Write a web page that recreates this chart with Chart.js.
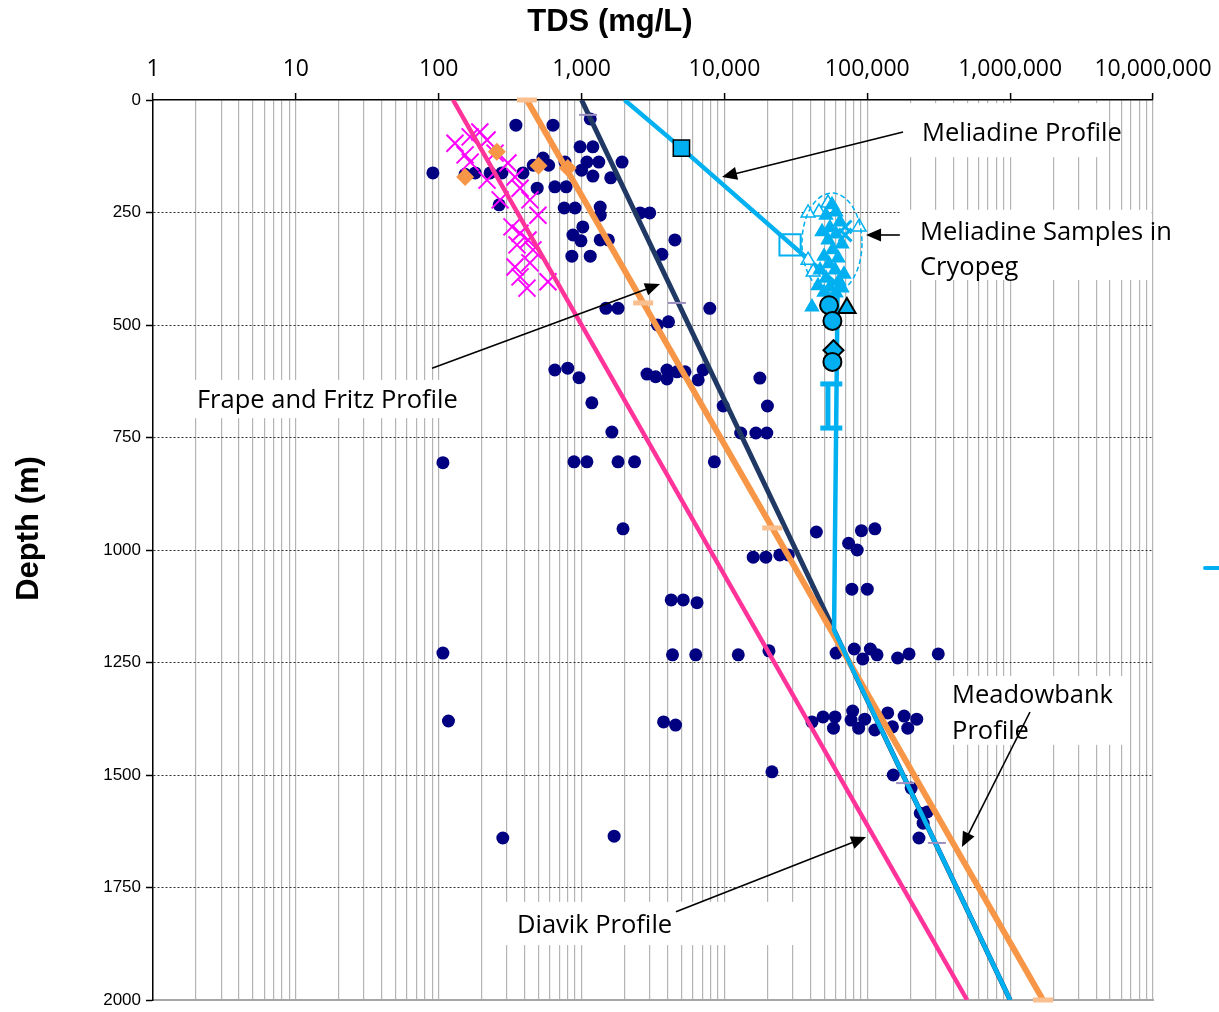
<!DOCTYPE html>
<html>
<head>
<meta charset="utf-8">
<title>TDS vs Depth</title>
<script src="https://cdn.jsdelivr.net/npm/chart.js@4.4.0/dist/chart.umd.min.js"></script>
<style>
    html, body { margin: 0; padding: 0; background: #ffffff; }
</style>
</head>
<body>
<canvas id="tdsChart" width="1219" height="1012"></canvas>
<script>
// axis ticks
const xDecades = [1, 10, 100, 1000, 10000, 100000, 1000000, 10000000];
const depthTicks = [0, 250, 500, 750, 1000, 1250, 1500, 1750, 2000];

// profiles (TDS mg/L, depth m)
const diavikTds = [126, 500000];
const diavikDepth = [0, 2000];
const frapeTds = [1000, 1000000];
const frapeDepth = [0, 2000];
const frapeMarkTds = [1110, 4650, 184000, 307000];
const frapeMarkDepth = [33, 451, 1518, 1651];
const meadowTds = [414, 1700000];
const meadowDepth = [0, 2000];
const meadowMarkTds = [414, 2700, 21600, 1700000];
const meadowMarkDepth = [0, 451, 951, 2000];
const meliTds = [2000, 5000, 62000, 58500, 1000000];
const meliDepth = [0, 107, 411, 1178, 2000];

// shield brine samples (navy dots)
const sampleTds = [91, 347, 180, 229, 277, 389, 265, 489, 631, 1150, 976, 1200, 537, 459, 588, 765, 1090, 1320, 1920, 1000,
    1200, 1600, 153, 650, 780, 756, 900, 1350, 1350, 2570, 3000, 1020, 870, 990, 1350, 1540, 4500, 855, 1150, 3650,
    7900, 1480, 1800, 3400, 4060, 650, 800, 960, 2870, 3300, 3960, 3960, 4650, 5300, 6550, 7100, 17700, 1180, 9800, 20000,
    1630, 13000, 16600, 19800, 885, 1090, 1800, 2350, 8500, 107, 1950, 44000, 15900, 19500, 24400, 28000, 91000, 113000, 74000, 85000,
    78000, 100000, 4240, 5150, 6430, 107, 4330, 6300, 12500, 20500, 60500, 81000, 93000, 105000, 117000, 163000, 196000, 314000,
    117, 3750, 4550, 41000, 49000, 59500, 58000, 79000, 77000, 87000, 96000, 113000, 139000, 150000, 181000, 222000, 192000,
    152000, 203000, 235000, 263000, 246000, 230000, 21500, 281, 1690];
const sampleDepth = [162, 56, 162, 162, 162, 162, 233, 196, 56, 42, 104, 104, 129, 145, 145, 138, 138, 138, 138, 156,
    169, 173, 165, 193, 193, 240, 240, 238, 256, 251, 251, 282, 300, 313, 311, 311, 311, 347, 347, 343,
    463, 463, 463, 500, 493, 600, 596, 617, 609, 615, 600, 620, 604, 604, 622, 600, 618, 673, 680, 680,
    738, 740, 740, 740, 804, 804, 804, 804, 804, 806, 953, 960, 1016, 1016, 1011, 1011, 957, 953, 985, 1000,
    1087, 1087, 1111, 1111, 1117, 1229, 1233, 1233, 1233, 1224, 1229, 1220, 1242, 1220, 1233, 1240, 1231, 1231,
    1380, 1382, 1389, 1382, 1371, 1371, 1396, 1358, 1378, 1396, 1376, 1400, 1362, 1393, 1369, 1376, 1396,
    1500, 1529, 1585, 1582, 1607, 1640, 1493, 1640, 1636];

// shallow samples (magenta crosses, orange diamonds)
const shallowTds = [130, 166, 194, 218, 248, 153, 218, 305, 342, 371, 269, 435, 495, 326, 371, 422, 353, 457, 342, 435, 371, 415, 582, 166];
const shallowDepth = [96, 82, 71, 89, 118, 122, 178, 140, 171, 196, 222, 222, 256, 282, 296, 311, 322, 333, 371, 362, 393, 418, 404, 138];
const diamondTds = [153, 255, 500, 800];
const diamondDepth = [171, 115, 146, 151];

// Meliadine samples
const cryoTds = [56600, 60400, 51400, 64400, 54800, 48200, 60400, 53100, 66500, 57300, 49800, 62400, 53900, 46700, 59500, 68700,
    51400, 63400, 45200, 54800, 66500, 49800, 60400];
const cryoDepth = [233, 249, 256, 271, 284, 293, 298, 311, 320, 333, 347, 351, 364, 378, 378, 387, 396, 402, 413, 416, 418, 427, 429];
const cryoOpenTds = [53100, 45900, 38500, 87600, 38500, 41800];
const cryoOpenDepth = [229, 249, 251, 282, 356, 382];
const cryoCrossTds = [70000, 70000];
const cryoCrossDepth = [282, 300];
const meliSquareTds = [5000];
const meliSquareDepth = [107];
const meliOpenSquareTds = [28800];
const meliOpenSquareDepth = [322];
const deepCircleTds = [54000, 57000, 57000];
const deepCircleDepth = [456, 491, 582];
const deepTriTds = [72000];
const deepTriDepth = [462];
const deepDiamondTds = [58000];
const deepDiamondDepth = [556];
const plainTriTds = [41000];
const plainTriDepth = [460];
const rangeCapTds = [56000, 56000];
const rangeBarTds = [53000, 53000];
const rangeDepth = [631, 729];

const CYAN = '#00b0f0';

function puntos(tds, prof) {
    return tds.map(function (v, i) { return { x: v, y: prof[i] }; });
}

// labels, white boxes and arrows, in data coordinates
const notas = [
    { lines: ['Meliadine Profile'], x: 241500, y: [76], box: [169000, 7, 4840000, 127], from: [178000, 71], to: [9620, 171] },
    { lines: ['Meliadine Samples in', 'Cryopeg'], x: 234000, y: [294, 373], box: [169000, 244, 20000000, 400], from: [169000, 300], to: [98000, 300] },
    { lines: ['Frape and Fritz Profile'], x: 2.03, y: [669], box: [1.67, 622, 166, 707], from: [89.8, 596], to: [3540, 409] },
    { lines: ['Meadowbank', 'Profile'], x: 392000, y: [1324, 1404], box: [323000, 1280, 6680000, 1433], from: [1377000, 1360], to: [460000, 1660] },
    { lines: ['Diavik Profile'], x: 353, y: [1835], box: [291, 1782, 39700, 1878], from: [4580, 1804], to: [98000, 1638] }
];
const cryoEllipse = { x: 56600, y: 318 };

function dibujarFlecha(ctx, x1, y1, x2, y2) {
    var ang = Math.atan2(y2 - y1, x2 - x1);
    var largo = 15, ancho = 6.5;
    ctx.beginPath();
    ctx.moveTo(x1, y1);
    ctx.lineTo(x2 - Math.cos(ang) * largo * 0.7, y2 - Math.sin(ang) * largo * 0.7);
    ctx.stroke();
    ctx.beginPath();
    ctx.moveTo(x2, y2);
    ctx.lineTo(x2 - largo * Math.cos(ang) + ancho * Math.sin(ang), y2 - largo * Math.sin(ang) - ancho * Math.cos(ang));
    ctx.lineTo(x2 - largo * Math.cos(ang) - ancho * Math.sin(ang), y2 - largo * Math.sin(ang) + ancho * Math.cos(ang));
    ctx.closePath();
    ctx.fill();
}

const notasPlugin = {
    id: 'notas',
    beforeDatasetsDraw: function (chart) {
        const ctx = chart.ctx, sx = chart.scales.x, sy = chart.scales.y, area = chart.chartArea;
        ctx.save();
        ctx.beginPath();
        ctx.rect(area.left + 1, area.top + 1, area.right - area.left - 2.5, area.bottom - area.top - 2);
        ctx.clip();
        ctx.fillStyle = '#ffffff';
        notas.forEach(function (n) {
            const x1 = sx.getPixelForValue(n.box[0]), y1 = sy.getPixelForValue(n.box[1]);
            const x2 = sx.getPixelForValue(n.box[2]), y2 = sy.getPixelForValue(n.box[3]);
            ctx.fillRect(x1, y1, x2 - x1, y2 - y1);
        });
        ctx.restore();
    },
    afterDatasetsDraw: function (chart) {
        const ctx = chart.ctx, sx = chart.scales.x, sy = chart.scales.y;
        ctx.save();

        // dashed ring round the cryopeg samples
        ctx.strokeStyle = CYAN;
        ctx.lineWidth = 1.5;
        ctx.setLineDash([5, 3]);
        ctx.beginPath();
        ctx.ellipse(sx.getPixelForValue(cryoEllipse.x), sy.getPixelForValue(cryoEllipse.y), 30, 50, 0, 0, Math.PI * 2);
        ctx.stroke();
        ctx.setLineDash([]);

        ctx.strokeStyle = '#000000';
        ctx.fillStyle = '#000000';
        ctx.lineWidth = 1.6;
        ctx.font = '25.5px "Open Sans"';
        ctx.textBaseline = 'middle';
        ctx.textAlign = 'left';
        notas.forEach(function (n) {
            dibujarFlecha(ctx, sx.getPixelForValue(n.from[0]), sy.getPixelForValue(n.from[1]),
                sx.getPixelForValue(n.to[0]), sy.getPixelForValue(n.to[1]));
            n.lines.forEach(function (t, i) {
                ctx.fillText(t, sx.getPixelForValue(n.x), sy.getPixelForValue(n.y[i]));
            });
        });
        ctx.restore();
    },
    afterDraw: function (chart) {
        // piece of the legend that is cut off at the right edge
        const ctx = chart.ctx;
        ctx.save();
        ctx.strokeStyle = CYAN;
        ctx.lineWidth = 4;
        ctx.lineCap = 'round';
        ctx.beginPath();
        ctx.moveTo(1205, 568);
        ctx.lineTo(1222, 568);
        ctx.stroke();
        ctx.restore();
    }
};

function esDecada(v) {
    return xDecades.indexOf(v) >= 0;
}

const ctx = document.getElementById('tdsChart').getContext('2d');
new Chart(ctx, {
    type: 'scatter',
    data: {
        datasets: [
            {
                label: 'Shield samples', data: puntos(sampleTds, sampleDepth), order: 10,
                pointStyle: 'circle', pointRadius: 6.5, backgroundColor: '#000080', borderColor: '#000080', borderWidth: 0
            },
            {
                label: 'Shallow samples', data: puntos(shallowTds, shallowDepth), order: 9,
                pointStyle: 'crossRot', pointRadius: 12, borderColor: '#ff00ff', backgroundColor: '#ff00ff', borderWidth: 2
            },
            {
                label: 'Diavik Profile', data: puntos(diavikTds, diavikDepth), order: 8, showLine: true,
                pointRadius: 0, borderColor: '#ff3399', borderWidth: 4.5
            },
            {
                label: 'Frape and Fritz Profile', data: puntos(frapeTds, frapeDepth), order: 7, showLine: true,
                pointRadius: 0, borderColor: '#1f3864', borderWidth: 5
            },
            {
                label: 'Meadowbank Profile', data: puntos(meadowTds, meadowDepth), order: 6, showLine: true,
                pointRadius: 0, borderColor: '#f79646', borderWidth: 6
            },
            {
                label: 'Meliadine Profile', data: puntos(meliTds, meliDepth), order: 5, showLine: true,
                pointRadius: 0, borderColor: CYAN, borderWidth: 4.5
            },
            {
                label: 'Frape marks', data: puntos(frapeMarkTds, frapeMarkDepth), order: 4, clip: false,
                pointStyle: 'line', pointRadius: 9, borderColor: '#9d8fc2', borderWidth: 2
            },
            {
                label: 'Meadowbank marks', data: puntos(meadowMarkTds, meadowMarkDepth), order: 4, clip: false,
                pointStyle: 'line', pointRadius: 10, borderColor: '#fabf8f', borderWidth: 5
            },
            {
                label: 'Diamonds', data: puntos(diamondTds, diamondDepth), order: 3,
                pointStyle: 'rectRot', pointRadius: 9, backgroundColor: '#f79646', borderColor: '#f79646', borderWidth: 0
            },
            {
                label: 'Cryopeg', data: puntos(cryoTds, cryoDepth), order: 2,
                pointStyle: 'triangle', pointRadius: 9, backgroundColor: CYAN, borderColor: CYAN, borderWidth: 0
            },
            {
                label: 'Cryopeg open', data: puntos(cryoOpenTds, cryoOpenDepth), order: 2,
                pointStyle: 'triangle', pointRadius: 8, backgroundColor: '#ffffff', borderColor: CYAN, borderWidth: 1.5
            },
            {
                label: 'Cryopeg cross', data: puntos(cryoCrossTds, cryoCrossDepth), order: 2,
                pointStyle: 'crossRot', pointRadius: 9, borderColor: CYAN, borderWidth: 3
            },
            {
                label: 'Meliadine square', data: puntos(meliSquareTds, meliSquareDepth), order: 1,
                pointStyle: 'rect', pointRadius: 11.5, backgroundColor: CYAN, borderColor: '#000000', borderWidth: 1.5
            },
            {
                label: 'Meliadine open square', data: puntos(meliOpenSquareTds, meliOpenSquareDepth), order: 1,
                pointStyle: 'rect', pointRadius: 15, backgroundColor: 'rgba(0,0,0,0)', borderColor: CYAN, borderWidth: 2
            },
            {
                label: 'Deep circles', data: puntos(deepCircleTds, deepCircleDepth), order: 1,
                pointStyle: 'circle', pointRadius: 9, backgroundColor: CYAN, borderColor: '#000000', borderWidth: 2
            },
            {
                label: 'Deep triangle', data: puntos(deepTriTds, deepTriDepth), order: 1,
                pointStyle: 'triangle', pointRadius: 10, backgroundColor: CYAN, borderColor: '#000000', borderWidth: 2
            },
            {
                label: 'Deep diamond', data: puntos(deepDiamondTds, deepDiamondDepth), order: 1,
                pointStyle: 'rectRot', pointRadius: 10, backgroundColor: CYAN, borderColor: '#000000', borderWidth: 2
            },
            {
                label: 'Plain triangle', data: puntos(plainTriTds, plainTriDepth), order: 1,
                pointStyle: 'triangle', pointRadius: 9, backgroundColor: CYAN, borderColor: CYAN, borderWidth: 0
            },
            {
                label: 'Range bar', data: puntos(rangeBarTds, rangeDepth), order: 1, showLine: true,
                pointRadius: 0, borderColor: CYAN, borderWidth: 5
            },
            {
                label: 'Range caps', data: puntos(rangeCapTds, rangeDepth), order: 1,
                pointStyle: 'line', pointRadius: 11, borderColor: CYAN, borderWidth: 5
            }
        ]
    },
    options: {
        responsive: false,
        devicePixelRatio: 1,
        animation: false,
        events: [],
        layout: { autoPadding: false, padding: { left: 0, right: 66, top: 0, bottom: 12 } },
        plugins: {
            legend: { display: false },
            tooltip: { enabled: false }
        },
        scales: {
            x: {
                type: 'logarithmic',
                position: 'top',
                min: 1,
                max: 10000000,
                afterBuildTicks: function (scale) {
                    var marcas = [];
                    for (var i = 0; i < xDecades.length - 1; i++) {
                        for (var m = 1; m <= 9; m++) {
                            marcas.push({ value: xDecades[i] * m });
                        }
                    }
                    marcas.push({ value: xDecades[xDecades.length - 1] });
                    scale.ticks = marcas;
                },
                afterFit: function (scale) {
                    scale.height = 100;
                    scale.paddingLeft = 0;
                    scale.paddingRight = 0;
                },
                ticks: {
                    autoSkip: false,
                    maxRotation: 0,
                    padding: 10,
                    color: '#000000',
                    font: { family: '"Open Sans"', size: 23 },
                    callback: function (value) {
                        return esDecada(value) ? value.toLocaleString('en-US') : '';
                    }
                },
                grid: {
                    color: '#b4b4b4',
                    lineWidth: 1.2,
                    tickLength: 7,
                    tickWidth: 1.5,
                    tickColor: function (c) {
                        return c.tick && esDecada(c.tick.value) ? '#000000' : 'rgba(0,0,0,0)';
                    }
                },
                border: { color: '#000000', width: 1.5 },
                title: {
                    display: true,
                    text: 'TDS (mg/L)          ',
                    color: '#000000',
                    padding: { top: 4, bottom: 0 },
                    font: { family: '"Liberation Sans"', size: 31, weight: 'bold' }
                }
            },
            xb: {
                type: 'logarithmic',
                position: 'bottom',
                min: 1,
                max: 10000000,
                afterFit: function (scale) {
                    scale.height = 0;
                    scale.paddingLeft = 0;
                    scale.paddingRight = 0;
                },
                ticks: { display: false },
                grid: { display: false, drawTicks: false },
                border: { color: '#a6a6a6', width: 2 }
            },
            y: {
                type: 'linear',
                reverse: true,
                min: 0,
                max: 2000,
                afterBuildTicks: function (scale) {
                    scale.ticks = depthTicks.map(function (v) { return { value: v }; });
                },
                afterFit: function (scale) {
                    scale.width = 153;
                    scale.paddingTop = 0;
                    scale.paddingBottom = 0;
                },
                ticks: {
                    padding: 5,
                    color: '#000000',
                    font: { family: '"Liberation Sans"', size: 17 },
                    callback: function (value) { return String(value); }
                },
                grid: {
                    color: function (c) {
                        return c.tick && (c.tick.value === 0 || c.tick.value === 2000) ? 'rgba(0,0,0,0)' : '#333333';
                    },
                    lineWidth: 1,
                    tickLength: 7,
                    tickWidth: 1.5,
                    tickColor: '#000000'
                },
                border: { color: '#000000', width: 1.5, dash: [2, 2] },
                title: {
                    display: true,
                    text: '     Depth (m)',
                    color: '#000000',
                    padding: { top: 11, bottom: 0 },
                    font: { family: '"Liberation Sans"', size: 31, weight: 'bold' }
                }
            }
        }
    },
    plugins: [notasPlugin]
});
</script>
</body>
</html>
